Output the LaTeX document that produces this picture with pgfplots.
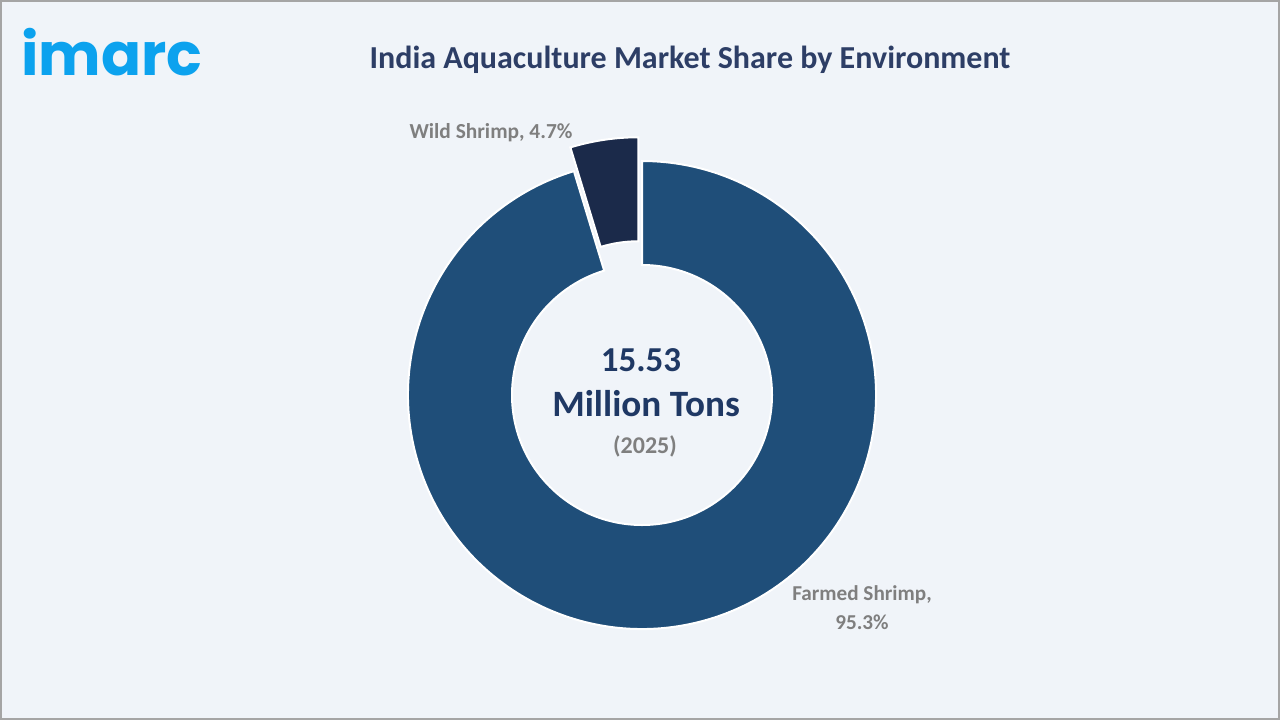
\documentclass[border=0pt]{standalone}
\usepackage{pgfplots}
\pgfplotsset{compat=1.18}
\usepackage{pgfplotstable}
\usepackage{fontspec}
\setmainfont{Carlito}
\newfontfamily\logofont{Poppins}

\definecolor{bgcol}{RGB}{240,244,249}
\definecolor{framecol}{RGB}{165,165,165}
\definecolor{farmcol}{RGB}{31,78,121}
\definecolor{wildcol}{RGB}{27,42,74}
\definecolor{titlecol}{RGB}{45,62,102}
\definecolor{numcol}{RGB}{31,56,100}
\definecolor{labgray}{RGB}{127,127,127}
\definecolor{logoblue}{RGB}{12,162,238}

\pgfplotstableread{
label value
Farmed 95.3
Wild 4.7
}\sharetable
\pgfplotstablegetelem{0}{value}\of\sharetable \let\farmed\pgfplotsretval
\pgfplotstablegetelem{1}{value}\of\sharetable \let\wild\pgfplotsretval

\begin{document}
\begin{tikzpicture}
\pgfmathsetmacro{\wildend}{90+3.6*\wild}
\pgfmathsetmacro{\wildmid}{90+1.8*\wild}
\begin{axis}[
  width=640pt, height=360pt, scale only axis,
  xmin=0, xmax=1280, ymin=0, ymax=720,
  hide axis, clip=false]
  % background
  \fill[bgcol] (axis cs:0,0) rectangle (axis cs:1280,720);
  \draw[framecol, line width=1pt] (axis cs:1,1) rectangle (axis cs:1279,719);
  % farmed shrimp slice
  \fill[farmcol, draw=white, line width=1pt]
    (axis cs:642,325) ++(\wildend:117pt)
    arc[start angle=\wildend, end angle=450, radius=117pt]
    -- ++(270:52pt)
    arc[start angle=450, end angle=\wildend, radius=65pt] -- cycle;
  % wild shrimp slice (exploded)
  \fill[wildcol, draw=white, line width=1pt]
    (axis cs:642,325) ++(\wildmid:12pt) ++(90:117pt)
    arc[start angle=90, end angle=\wildend, radius=117pt]
    -- ++({\wildend+180}:52pt)
    arc[start angle=\wildend, end angle=90, radius=65pt] -- cycle;
  % texts
  \node[anchor=base west, text=logoblue, inner sep=0pt,
        font=\logofont\bfseries\fontsize{29.5}{30}\selectfont]
        at (axis cs:21,645) {imarc};
  \node[text=titlecol, font=\bfseries\fontsize{16}{18}\selectfont]
        at (axis cs:690,660) {India Aquaculture Market Share by Environment};
  \node[text=numcol, font=\bfseries\fontsize{17.5}{20}\selectfont]
        at (axis cs:641,360) {15.53};
  \node[text=numcol, font=\bfseries\fontsize{18.6}{20}\selectfont]
        at (axis cs:646,316) {Million Tons};
  \node[text=labgray, font=\bfseries\fontsize{12}{14}\selectfont]
        at (axis cs:645,274) {(2025)};
  \node[text=labgray, font=\bfseries\fontsize{10.7}{12}\selectfont]
        at (axis cs:491,587) {Wild Shrimp, \wild\%};
  \node[text=labgray, font=\bfseries\fontsize{10.6}{14.5}\selectfont, align=center]
        at (axis cs:862,112) {Farmed Shrimp,\\\farmed\%};
\end{axis}
\end{tikzpicture}
\end{document}
